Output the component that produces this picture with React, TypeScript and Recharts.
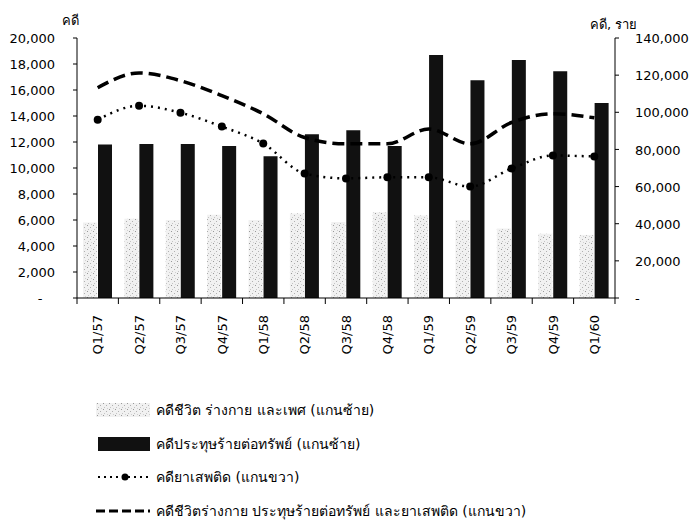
import { ComposedChart, Bar, Line, XAxis, YAxis } from "recharts"

const quarters = ["Q1/57", "Q2/57", "Q3/57", "Q4/57", "Q1/58", "Q2/58", "Q3/58", "Q4/58", "Q1/59", "Q2/59", "Q3/59", "Q4/59", "Q1/60"]
// left axis (คดี)
const violentCases = [5800, 6100, 6000, 6400, 6000, 6500, 5850, 6600, 6350, 6000, 5350, 4950, 4850]
const propertyCases = [11800, 11850, 11850, 11700, 10900, 12600, 12900, 11700, 18700, 16750, 18300, 17450, 15000]
// right axis (คดี, ราย)
const drugCases = [96000, 103500, 99800, 92300, 83200, 67000, 64400, 65000, 65000, 60000, 69700, 76700, 76200]
const totalCases = [113200, 121200, 117000, 109000, 99200, 86400, 83000, 83000, 91000, 83000, 94500, 99200, 97000]

const leftTicks = [0, 2000, 4000, 6000, 8000, 10000, 12000, 14000, 16000, 18000, 20000]
const rightTicks = [0, 20000, 40000, 60000, 80000, 100000, 120000, 140000]

const data = quarters.map((q, i) => ({
  q,
  violent: violentCases[i],
  property: propertyCases[i],
  drug: drugCases[i],
  total: totalCases[i],
}))

const W = 690
const H = 372
const LEFT_W = 69
const RIGHT_W = 70
const MARGIN = { top: 30, right: 13, left: 0, bottom: 0 }
const PLOT_BOTTOM = 290
const BAND = (W - LEFT_W - RIGHT_W - MARGIN.right) / quarters.length
const FONT = "Tahoma, 'DejaVu Sans', sans-serif"

const fmt = (v: number) => v.toLocaleString("en-US")

const QuarterTick = (props: any) => {
  const { x, y, payload, index } = props
  return (
    <g transform={`translate(${x},${y})`}>
      <line x1={-BAND / 2} x2={-BAND / 2} y1={0} y2={6} stroke="#000" />
      {index === quarters.length - 1 && <line x1={BAND / 2} x2={BAND / 2} y1={0} y2={6} stroke="#000" />}
      <text transform="rotate(-90)" x={-17} y={0} dy="0.36em" textAnchor="end" fontSize={13} fill="#000" fontFamily={FONT}>
        {payload.value}
      </text>
    </g>
  )
}

const LeftTick = (props: any) => {
  const { x, y, payload } = props
  if (payload.value === 0)
    return <text x={x - 15} y={y} dy="0.4em" textAnchor="middle" fontSize={13} fill="#000" fontFamily={FONT}>-</text>
  return (
    <text x={x} y={y} dy="0.4em" textAnchor="end" fontSize={13} fill="#000" fontFamily={FONT}>
      {fmt(payload.value)}
    </text>
  )
}

const RightTick = (props: any) => {
  const { x, y, payload } = props
  return (
    <text x={x} y={y} dy="0.4em" textAnchor="start" fontSize={13} fill="#000" fontFamily={FONT}>
      {payload.value === 0 ? "-" : fmt(payload.value)}
    </text>
  )
}

const Stipple = ({ id }: { id: string }) => (
  <pattern id={id} width="6" height="6" patternUnits="userSpaceOnUse">
    <rect width="6" height="6" fill="#f1f1f1" />
    <rect x="1" y="1" width="1" height="1" fill="#999" />
    <rect x="4" y="3" width="1" height="1" fill="#b0b0b0" />
    <rect x="2" y="5" width="1" height="1" fill="#c4c4c4" />
    <rect x="5" y="0" width="1" height="1" fill="#d0d0d0" />
  </pattern>
)

const legendRows = [
  { key: "violent", label: "คดีชีวิต ร่างกาย และเพศ  (แกนซ้าย)" },
  { key: "property", label: "คดีประทุษร้ายต่อทรัพย์  (แกนซ้าย)" },
  { key: "drug", label: "คดียาเสพติด (แกนขวา)" },
  { key: "total", label: "คดีชีวิตร่างกาย ประทุษร้ายต่อทรัพย์ และยาเสพติด (แกนขวา)" },
]

const LegendIcon = ({ kind }: { kind: string }) => (
  <svg width={56} height={16} style={{ display: "block" }}>
    <defs>
      <Stipple id="stippleLegend" />
    </defs>
    {kind === "violent" && <rect x={0} y={1} width={54} height={14} fill="url(#stippleLegend)" />}
    {kind === "property" && <rect x={2} y={1} width={52} height={14} fill="#111" />}
    {kind === "drug" && (
      <>
        <line x1={2} x2={54} y1={8} y2={8} stroke="#000" strokeWidth={2} strokeDasharray="2 4" />
        <circle cx={29} cy={8} r={3.5} fill="#000" />
      </>
    )}
    {kind === "total" && <line x1={0} x2={54} y1={8} y2={8} stroke="#000" strokeWidth={3} strokeDasharray="9 4" />}
  </svg>
)

export default function App() {
  return (
    <div style={{ position: "relative", width: W, height: 514, fontFamily: FONT, color: "#000" }}>
      <div style={{ position: "absolute", left: 54, top: 2, fontSize: 13 }}>คดี</div>
      <div style={{ position: "absolute", left: 582, top: 6, fontSize: 13 }}>คดี, ราย</div>
      <ComposedChart width={W} height={H} data={data} margin={MARGIN} barSize={14} barGap={1}>
        <defs>
          <Stipple id="stippleBar" />
        </defs>
        <XAxis
          dataKey="q"
          height={H - PLOT_BOTTOM - MARGIN.bottom}
          interval={0}
          tickLine={false}
          tickSize={0}
          tickMargin={0}
          tick={<QuarterTick />}
          stroke="#000"
        />
        <YAxis
          yAxisId="left"
          width={LEFT_W}
          domain={[0, 20000]}
          ticks={leftTicks}
          interval={0}
          tickSize={4}
          tickMargin={18}
          tick={<LeftTick />}
          stroke="#000"
        />
        <YAxis
          yAxisId="right"
          orientation="right"
          width={RIGHT_W}
          domain={[0, 140000]}
          ticks={rightTicks}
          interval={0}
          tickSize={4}
          tickMargin={16}
          tick={<RightTick />}
          stroke="#000"
        />
        <Bar yAxisId="left" dataKey="violent" fill="url(#stippleBar)" isAnimationActive={false} />
        <Bar yAxisId="left" dataKey="property" fill="#111" isAnimationActive={false} />
        <Line
          yAxisId="right"
          type="monotone"
          dataKey="drug"
          stroke="#000"
          strokeWidth={2.5}
          strokeDasharray="2 5"
          dot={{ r: 4, fill: "#000", stroke: "#000", strokeWidth: 0, strokeDasharray: "" }}
          isAnimationActive={false}
        />
        <Line
          yAxisId="right"
          type="monotone"
          dataKey="total"
          stroke="#000"
          strokeWidth={3.5}
          strokeDasharray="12 6"
          dot={false}
          isAnimationActive={false}
        />
      </ComposedChart>
      {legendRows.map((r, i) => (
        <div
          key={r.key}
          style={{ position: "absolute", left: 88, top: 391 + i * 33.5, display: "flex", alignItems: "center", gap: 4, fontSize: 14 }}
        >
          <LegendIcon kind={r.key} />
          <span>{r.label}</span>
        </div>
      ))}
    </div>
  )
}
